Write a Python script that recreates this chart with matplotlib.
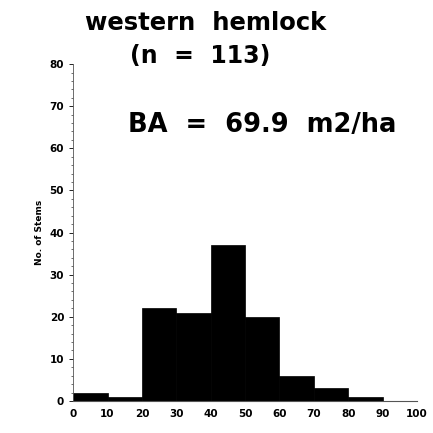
import numpy as np
import matplotlib
matplotlib.use('Agg')
import matplotlib.pyplot as plt
from matplotlib.ticker import MultipleLocator

# Data dari gambar: jumlah batang per kelas diameter (lebar 10 cm)
bin_edges = [0, 10, 20, 30, 40, 50, 60, 70, 80, 90, 100]
counts = [2, 1, 22, 21, 37, 20, 6, 3, 1, 0]
x_ticks = [0, 10, 20, 30, 40, 50, 60, 70, 80, 90, 100]
y_ticks = [0, 10, 20, 30, 40, 50, 60, 70, 80]

plt.rcParams['font.family'] = ['DejaVu Sans']

fig = plt.figure(figsize=(4.33, 4.33), dpi=100)
ax = fig.add_axes([0.169, 0.074, 0.794, 0.778])

# Histogram batang hitam
lefts = bin_edges[:-1]
widths = np.diff(bin_edges)
ax.bar(lefts, counts, width=widths, align='edge', color='black', edgecolor='black', linewidth=0.5)

ax.set_xlim(0, 100)
ax.set_ylim(0, 80)
ax.set_xticks(x_ticks)
ax.set_yticks(y_ticks)
ax.yaxis.set_minor_locator(MultipleLocator(2))
ax.tick_params(axis='both', labelsize=7.5, width=0.6, length=3)
ax.tick_params(axis='y', which='minor', length=1.5, width=0.4)
ax.tick_params(axis='x', length=0, pad=6)
for lab in ax.get_xticklabels() + ax.get_yticklabels():
    lab.set_fontweight('bold')

ax.spines['top'].set_visible(False)
ax.spines['right'].set_visible(False)
ax.spines['left'].set_linewidth(0.6)
ax.spines['left'].set_color('#555555')
ax.spines['bottom'].set_linewidth(0.8)
ax.spines['bottom'].set_color('#555555')

ax.set_ylabel('No. of Stems', fontsize=6.5, fontweight='bold', labelpad=4)

# Judul dan teks BA
fig.text(0.476, 0.948, 'western  hemlock', ha='center', va='center', fontsize=17.5, fontweight='bold')
fig.text(0.462, 0.870, '(n  =  113)', ha='center', va='center', fontsize=17, fontweight='bold')
ax.text(0.16, 0.82, 'BA  =  69.9  m2/ha', transform=ax.transAxes, ha='left', va='center',
        fontsize=18.5, fontweight='bold')

fig.savefig('out.png', dpi=100)
